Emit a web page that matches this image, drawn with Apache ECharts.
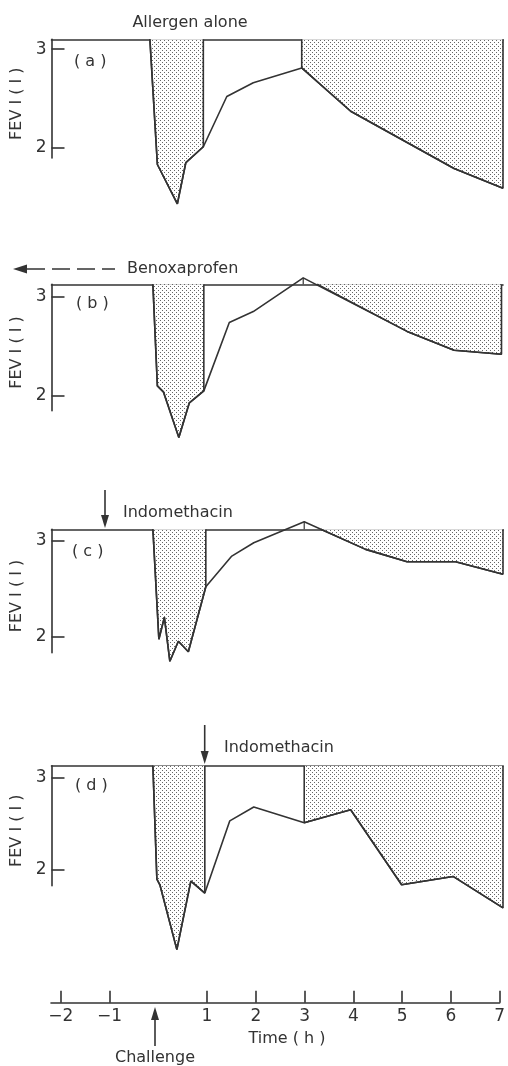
<!DOCTYPE html>
<html><head><meta charset="utf-8">
<script src="https://cdn.jsdelivr.net/npm/echarts@6/dist/echarts.min.js"></script>
<style>html,body{margin:0;padding:0;background:#fff}#c{width:508px;height:1066px}</style>
</head><body><div id="c"></div>
<script>
// ---- Data (time in h, FEV1 in l) ----
// (a) Allergen alone
const timeA = [-0.07, 0.08, 0.48, 0.65, 1.0, 1.47, 2.0, 2.97, 3.95, 6.02, 7.0];
const fevA  = [3.10, 1.83, 1.43, 1.85, 2.01, 2.52, 2.66, 2.81, 2.37, 1.79, 1.59];
const baseA = 3.1;
// (b) Benoxaprofen
const timeB = [-0.01, 0.08, 0.2, 0.51, 0.72, 1.01, 1.52, 2.0, 3.0, 5.08, 6.02, 6.97];
const fevB  = [3.125, 2.10, 2.04, 1.58, 1.93, 2.05, 2.74, 2.85, 3.19, 2.65, 2.46, 2.42];
const baseB = 3.125;
const crossB = 3.28;
// (c) Indomethacin before challenge
const timeC = [-0.01, 0.11, 0.22, 0.33, 0.5, 0.7, 1.05, 1.57, 2.01, 3.02, 4.25, 5.08, 6.05, 7.0];
const fevC  = [3.12, 1.97, 2.2, 1.74, 1.95, 1.84, 2.52, 2.84, 2.98, 3.2, 2.91, 2.78, 2.78, 2.65];
const baseC = 3.12;
const crossC = 3.35;
// (d) Indomethacin at 1 h
const timeD = [-0.01, 0.07, 0.13, 0.47, 0.75, 1.03, 1.53, 2.01, 3.02, 3.95, 4.97, 6.0, 7.0];
const fevD  = [3.125, 1.90, 1.84, 1.14, 1.88, 1.75, 2.53, 2.68, 2.51, 2.65, 1.84, 1.93, 1.59];
const baseD = 3.125;

const xTicks = [-2, -1, 1, 2, 3, 4, 5, 6, 7];
const yTicks = [2, 3];
const panelLabels = ['( a )', '( b )', '( c )', '( d )'];

const panels = [
  {t: timeA, v: fevA, base: baseA, min: 1.896, shades: [{from: 0, to: 4}, {from: 7, to: 10}], peak: null},
  {t: timeB, v: fevB, base: baseB, min: 1.85, shades: [{from: 0, to: 5}, {cross: crossB, from: 9, to: 11}], peak: 8},
  {t: timeC, v: fevC, base: baseC, min: 1.83, shades: [{from: 0, to: 6}, {cross: crossC, from: 10, to: 13}], peak: 9},
  {t: timeD, v: fevD, base: baseD, min: 1.83, shades: [{from: 0, to: 5}, {from: 8, to: 12}], peak: null}
];

// ---- layout ----
const gridPos = [
  {top: 39.3, height: 118.7},
  {top: 284.3, height: 126.4},
  {top: 529.3, height: 123.4},
  {top: 765.7, height: 120}
];
const INK = '#333';
const FONT = 'DejaVu Sans';
const FS = 16;

const pc = document.createElement('canvas');
pc.width = 4; pc.height = 4;
const pctx = pc.getContext('2d');
pctx.fillStyle = '#ffffff'; pctx.fillRect(0, 0, 4, 4);
pctx.fillStyle = '#666666';
pctx.fillRect(0, 0, 1, 1); pctx.fillRect(2, 2, 1, 1);

const grids = [], xAxes = [], yAxes = [], series = [];
panels.forEach((p, i) => {
  grids.push({left: 51.5, width: 451.5, top: gridPos[i].top, height: gridPos[i].height});
  xAxes.push({
    type: 'value', gridIndex: i, min: -2.04, max: 7, position: 'top',
    axisLine: {show: true, onZero: false, lineStyle: {color: INK, width: 1.6}},
    axisTick: {show: false}, axisLabel: {show: false}, splitLine: {show: false}
  });
  yAxes.push({
    type: 'value', gridIndex: i, min: p.min, max: p.base,
    name: 'FEV I ( I )', nameLocation: 'middle', nameRotate: 90, nameGap: 27,
    nameTextStyle: {color: INK, fontSize: FS, fontFamily: FONT, padding: [0, 10, 0, 0]},
    axisLine: {show: true, onZero: false, lineStyle: {color: INK, width: 1.6}},
    axisTick: {show: true, inside: true, length: 13, customValues: yTicks, lineStyle: {color: INK, width: 1.6}},
    axisLabel: {show: true, customValues: yTicks, margin: 5, color: INK, fontSize: FS + 1, fontFamily: FONT},
    splitLine: {show: false}
  });
  const curve = p.t.map((t, k) => [t, p.v[k]]);
  p.shades.forEach(s => {
    const pts = [];
    pts.push([s.cross !== undefined ? s.cross : p.t[s.from], p.base]);
    for (let k = s.from; k <= s.to; k++) pts.push([p.t[k], p.v[k]]);
    pts.push([p.t[s.to], p.base]);
    series.push({
      type: 'line', xAxisIndex: i, yAxisIndex: i, data: pts, symbol: 'none', clip: false, z: 2,
      lineStyle: {color: INK, width: 1.6},
      areaStyle: {origin: 'end', color: {image: pc, repeat: 'repeat'}, opacity: 1},
      silent: true, animation: false
    });
  });
  if (p.peak !== null) {
    series.push({
      type: 'line', xAxisIndex: i, yAxisIndex: i, symbol: 'none', clip: false, z: 3,
      data: [[p.t[p.peak], p.base], [p.t[p.peak], p.v[p.peak]]],
      lineStyle: {color: INK, width: 1.2}, silent: true, animation: false
    });
  }
  series.push({
    type: 'line', xAxisIndex: i, yAxisIndex: i, data: curve, symbol: 'none', clip: false, z: 4,
    lineStyle: {color: INK, width: 1.6}, silent: true, animation: false
  });
});

// bottom time axis
grids.push({left: 51, width: 451.7, top: 990, height: 12.7});
xAxes.push({
  type: 'value', gridIndex: 4, min: -2.2, max: 7, position: 'bottom',
  axisLine: {show: true, onZero: false, lineStyle: {color: INK, width: 1.6}},
  axisTick: {show: true, inside: true, length: 12, customValues: xTicks, lineStyle: {color: INK, width: 1.6}},
  axisLabel: {show: true, customValues: xTicks, margin: 5, color: INK, fontSize: FS + 1, fontFamily: FONT,
    formatter: v => v < 0 ? '\u2212' + Math.abs(v) : String(v)},
  splitLine: {show: false}
});
yAxes.push({type: 'value', gridIndex: 4, min: 0, max: 1, show: false});
series.push({type: 'line', xAxisIndex: 4, yAxisIndex: 4, data: [], symbol: 'none'});

const ts = {fill: INK, fontSize: FS, fontFamily: FONT};
function txt(x, y, s, align) {
  return {type: 'text', x: x, y: y, style: Object.assign({text: s, textAlign: align || 'left', textVerticalAlign: 'middle'}, ts)};
}
function line(x1, y1, x2, y2, dash) {
  return {type: 'line', shape: {x1: x1, y1: y1, x2: x2, y2: y2},
    style: {stroke: INK, lineWidth: 1.6, lineDash: dash || null}};
}
function tri(points) {
  return {type: 'polygon', shape: {points: points}, style: {fill: INK}};
}
const graphic = [
  txt(190, 23, 'Allergen alone', 'center'),
  txt(74, 62, panelLabels[0]), txt(76, 304, panelLabels[1]), txt(72, 552, panelLabels[2]), txt(75, 786, panelLabels[3]),
  // Benoxaprofen dashed arrow
  tri([[13, 269], [27, 264.5], [27, 273.5]]),
  line(27, 269, 115, 269, [18, 7]),
  txt(127, 269, 'Benoxaprofen'),
  // Indomethacin (c)
  line(105, 490, 105, 518), tri([[105, 528], [101, 515], [109, 515]]),
  txt(123, 513, 'Indomethacin'),
  // Indomethacin (d)
  line(204.7, 725, 204.7, 753), tri([[204.7, 764], [200.7, 751], [208.7, 751]]),
  txt(224, 748, 'Indomethacin'),
  // Challenge
  line(155, 1046, 155, 1018), tri([[155, 1007], [151, 1020], [159, 1020]]),
  txt(155, 1058, 'Challenge', 'center'),
  txt(287, 1039, 'Time ( h )', 'center')
];

const chart = echarts.init(document.getElementById('c'), null, {renderer: 'canvas'});
chart.setOption({
  animation: false,
  backgroundColor: '#fff',
  grid: grids, xAxis: xAxes, yAxis: yAxes, series: series, graphic: graphic
});
</script></body></html>
